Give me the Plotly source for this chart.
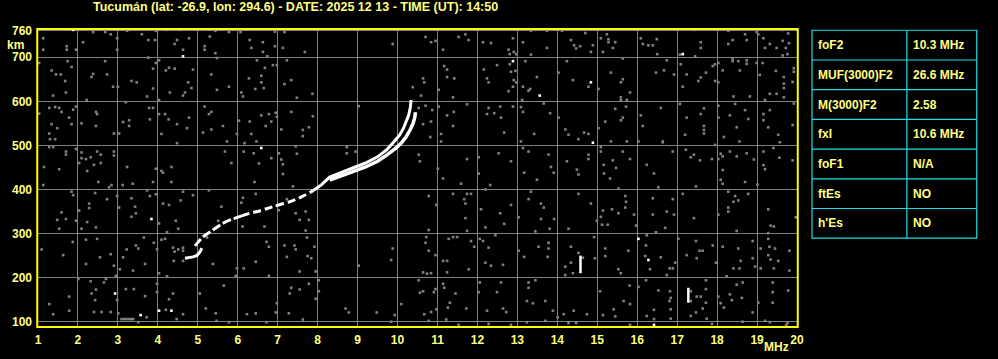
import plotly.graph_objects as go

# ---------------- data ----------------
title_text = "Tucumán (lat: -26.9, lon: 294.6) - DATE: 2025 12 13 - TIME (UT): 14:50"
x_ticks = list(range(1, 21))
y_ticks = [100, 200, 300, 400, 500, 600, 700, 760]

# O-mode F trace (MHz, km): low part, middle (broken) part, upper part
o_low_freq = [4.93, 5.0, 5.08, 5.15, 5.26, 5.38, 5.5, 5.62, 5.75, 5.9, 6.1]
o_low_height = [272, 280, 288, 294, 301, 308, 316, 323, 329, 334, 340]
o_mid_freq = [6.1, 6.3, 6.5, 6.7, 6.9, 7.1, 7.3, 7.5, 7.7, 7.9]
o_mid_height = [340, 346, 350, 356, 362, 367, 372, 379, 388, 398]
o_up_freq = [7.9, 8.1, 8.3, 8.6, 8.9, 9.2, 9.5, 9.73, 9.9, 10.05, 10.15,
             10.22, 10.28, 10.32, 10.34]
o_up_height = [398, 411, 428, 439, 449, 460, 474, 490, 507, 523, 539,
               554, 569, 586, 603]
# X-mode trace
x_freq = [8.3, 8.6, 8.9, 9.2, 9.5, 9.73, 9.95, 10.1, 10.22, 10.32, 10.39, 10.43, 10.45]
x_height = [421, 432, 441, 451, 464, 478, 493, 506, 520, 536, 550, 563, 575]
# low hook
hook_freq = [4.68, 4.78, 4.88, 4.97, 5.03, 5.07, 5.1]
hook_height = [244, 245, 247, 250, 255, 261, 267]

# vertical echo marks
mark_freq = [14.58, 17.28]
mark_low = [210, 143]
mark_high = [250, 177]

# grey noise echoes (MHz, km)
noise = [
(1.13,743),(1.13,717),(1.72,725),(1.72,717),(1.95,717),(2.13,734),(2.38,757),(2.68,757),(2.82,752),(2.98,743),(2.98,717),(3.23,760),(3.6,752),(3.76,739),(3.93,739),(3.95,760),(4.23,762),(4.53,762),(4.48,739),(4.42,730),(4.63,717),(4.78,743),(5.17,725),(5.17,717),(5.3,747),(5.44,760),(5.44,709),(5.48,698),(5.78,757),(6.07,757),(6.3,739),(6.34,721),(6.63,734),(6.63,712),(6.74,702),(6.93,758),(6.93,725),(7.13,721),(7.17,757),(7.68,712),(9.88,730),
(1.03,687),(1.34,670),(1.45,661),(1.57,661),(1.68,646),(1.74,691),(1.84,678),(1.7,620),(1.38,613),(2.22,603),(2.34,655),(2.38,662),(2.68,691),(2.73,661),(2.88,633),(3.0,633),(3.34,646),(3.47,643),(3.76,699),(3.88,674),(3.88,629),(3.73,611),(3.95,687),(4.03,693),(4.03,603),(4.2,670),(4.28,676),(4.42,674),(4.3,620),(4.63,613),(4.68,620),(4.76,643),(4.84,630),(4.88,672),(5.34,661),(5.48,626),(5.78,633),(6.09,620),(6.13,611),(6.28,652),(6.48,693),(6.59,658),(6.59,643),(6.68,676),(6.65,630),(6.44,628),(6.88,682),(6.98,682),(7.23,693),(7.34,648),(7.17,639),(7.48,608),(7.87,617),(10.38,632),
(1.03,572),(1.28,585),(1.43,587),(1.53,585),(1.59,576),(1.78,563),(1.88,581),(1.95,588),(1.34,548),(1.48,539),(1.28,527),(1.84,548),(1.3,514),(1.43,514),(2.09,550),(2.45,576),(2.48,571),(2.45,544),(2.9,527),(3.03,527),(3.13,553),(3.28,557),(3.28,544),(3.2,598),(3.78,585),(3.88,585),(3.8,559),(4.03,571),(4.09,526),(4.18,571),(4.27,559),(4.48,548),(4.73,539),(4.78,563),(4.48,505),(5.17,588),(5.28,571),(5.34,576),(5.34,536),(5.13,529),(5.63,544),(5.73,509),(6.03,556),(5.98,526),(6.3,554),(6.34,526),(6.17,505),(6.47,509),(6.59,568),(6.78,571),(6.95,574),(6.98,565),(6.84,554),(6.7,544),(7.09,536),(7.34,576),(7.63,535),(7.63,521),(7.78,541),(7.88,566),(9.03,589),
(1.28,496),(1.38,496),(1.7,486),(1.7,479),(1.95,492),(2.09,484),(2.09,471),(2.2,469),(2.32,473),(2.48,486),(2.57,479),(2.9,486),(2.9,477),(2.03,460),(2.4,456),(2.57,460),(1.15,451),(1.53,446),(2.23,442),(3.23,451),(3.95,447),(4.09,442),(4.13,438),(4.34,451),(5.68,486),(5.84,460),(6.15,486),(6.4,482),(6.53,459),(6.84,471),(7.03,482),(7.09,468),(7.13,457),(7.13,435),(7.45,498),(7.48,481),(8.73,496),(8.73,482),(8.95,486),
(10.7,746),(10.84,734),(10.95,737),(11.14,717),(11.53,746),(11.7,752),(11.78,739),(12.14,734),(12.34,732),(12.78,717),(12.81,707),(12.91,712),(12.97,707),(12.89,743),(13.14,734),(13.34,760),(13.34,706),(13.45,762),(13.74,760),(13.74,721),(14.12,760),(14.34,739),(14.42,727),(14.47,720),(14.57,725),(14.7,755),(14.84,712),(14.89,727),(15.09,743),(15.24,752),(15.28,741),(15.28,734),(15.45,734),(15.39,721),(15.14,712),(16.09,743),(16.14,730),(16.28,727),(16.39,727),(16.5,707),(16.49,741),(17.07,706),(17.45,762),(17.59,734),(17.59,721),(17.45,702),(18.28,760),(18.28,730),(18.39,739),(18.7,752),(18.74,739),(18.99,757),(19.03,752),(19.16,743),(19.32,730),(19.2,721),(19.49,721),(19.64,762),(19.64,737),(19.78,754),(19.8,732),(19.72,721),(19.76,707),(19.64,704),
(10.64,652),(10.67,643),(10.59,613),(11.03,626),(11.17,680),(11.24,672),(11.24,655),(11.42,652),(11.39,609),(11.74,593),(12.16,672),(12.24,652),(12.28,643),(12.49,682),(12.81,684),(12.84,667),(12.95,669),(12.91,648),(12.89,633),(12.78,623),(12.97,643),(13.2,691),(13.14,633),(13.32,628),(13.28,624),(13.49,655),(13.12,603),(14.03,665),(14.24,691),(14.39,648),(14.78,633),(15.03,628),(15.34,665),(15.59,643),(15.64,650),(15.59,609),(15.59,603),(15.74,603),(15.82,620),(15.64,697),(16.47,665),(16.67,670),(16.74,693),(16.92,661),(17.14,633),(17.09,684),(17.24,661),(17.59,654),(17.53,646),(17.72,665),(17.89,680),(17.95,684),(17.95,646),(18.03,687),(18.03,643),(18.14,670),(18.39,697),(18.39,691),(18.53,691),(18.57,670),(18.74,693),(18.74,685),(18.99,687),(19.14,687),(19.47,669),(19.07,660),(19.67,655),(19.89,644),(19.92,675),(19.92,667),(19.67,640),(19.67,630),(19.67,609),(19.49,617),(19.32,617),(18.41,611),(18.82,611),(19.2,603),
(10.53,585),(10.7,590),(10.87,580),(10.64,548),(10.84,554),(11.03,588),(11.24,568),(11.41,576),(11.39,544),(11.09,526),(10.82,519),(11.09,509),(12.28,585),(12.42,573),(12.59,563),(12.57,588),(12.24,571),(12.67,529),(12.89,588),(13.09,587),(13.14,576),(13.42,526),(13.66,595),(13.82,573),(13.09,509),(14.03,563),(14.2,536),(14.28,524),(14.53,514),(14.67,529),(14.78,526),(15.03,539),(15.2,554),(15.34,509),(15.45,583),(15.59,557),(15.72,588),(15.64,563),(15.74,509),(16.09,568),(16.14,544),(16.03,509),(16.59,585),(16.64,507),(17.07,594),(17.24,563),(17.2,524),(17.59,571),(17.67,584),(17.67,544),(17.67,535),(17.67,527),(18.03,590),(18.03,563),(18.17,519),(18.32,568),(18.45,594),(18.49,541),(18.56,509),(18.7,580),(18.78,560),(19.16,571),(19.32,580),(19.16,557),(19.28,541),(19.53,524),(19.57,507),(19.89,546),(19.92,595),
(10.53,479),(10.56,464),(11.01,447),(11.74,469),(12.03,473),(12.03,436),(12.53,482),(12.84,464),(13.14,494),(13.28,486),(13.17,438),(13.78,479),(13.84,451),(13.91,438),(14.24,464),(14.78,479),(14.78,469),(14.49,445),(14.53,434),(15.09,496),(15.09,486),(15.16,456),(15.17,436),(15.39,466),(15.47,449),(15.64,486),(15.82,469),(16.24,456),(16.42,436),(16.64,509),(16.89,486),(17.22,490),(17.34,473),(17.42,479),(17.57,466),(17.87,469),(17.95,501),(18.03,469),(18.09,481),(18.14,475),(18.14,444),(18.32,486),(18.49,475),(18.74,482),(18.92,468),(19.16,455),(19.2,446),(19.16,486),(19.41,494),(19.56,472),(19.89,466),
(1.13,410),(2.51,417),(2.78,405),(2.84,410),(3.12,410),(3.37,413),(3.88,417),(4.34,417),(6.42,417),(7.38,407),
(1.84,395),(1.88,387),(1.59,348),(1.48,331),(1.53,311),(1.7,333),(1.95,329),(2.03,352),(2.28,368),(2.28,358),(2.23,326),(2.09,311),(2.43,392),(2.45,314),(2.73,378),(2.98,385),(3.03,359),(3.34,338),(3.45,346),(3.43,361),(3.34,380),(3.73,398),(3.8,385),(3.95,389),(4.03,323),(4.13,368),(4.28,365),(4.45,329),(4.57,375),(4.63,395),(4.88,387),(4.51,311),(4.23,303),(5.28,398),(5.59,361),(5.51,329),(6.13,381),(6.09,370),(6.45,390),(6.45,350),(6.12,316),(6.67,316),(6.97,363),(7.03,353),(7.23,378),(7.45,346),(7.7,350),(7.55,331),(7.78,331),(7.7,307),
(1.09,264),(1.63,251),(1.87,281),(2.2,286),(2.2,231),(2.48,288),(2.55,246),(2.82,253),(2.9,227),(2.95,204),(3.05,219),(3.13,246),(3.22,264),(3.45,273),(3.51,266),(3.65,291),(3.68,231),(3.38,216),(3.9,279),(3.98,264),(4.03,210),(4.09,286),(4.18,288),(4.38,268),(4.42,259),(4.4,238),(4.51,264),(4.63,268),(4.63,261),(4.63,238),(4.23,203),(5.23,291),(5.38,231),(5.98,221),(6.15,221),(5.95,204),(6.72,281),(6.78,270),(6.45,236),(6.78,204),(7.17,273),(7.23,247),(7.42,273),(7.45,264),(7.73,291),(7.75,249),(7.84,244),(7.92,270),(7.95,214),(7.55,214),(9.03,227),(9.84,240),(9.88,266),
(1.28,140),(1.38,117),(1.78,157),(1.78,125),(2.01,197),(2.32,192),(2.34,164),(2.45,173),(2.43,149),(2.4,122),(2.59,122),(2.65,189),(2.7,197),(2.82,122),(2.98,149),(3.01,119),(3.09,106),(3.15,106),(3.21,106),(3.27,106),(3.33,106),(3.38,106),(3.51,99),(3.72,110),(3.2,174),(3.4,174),(3.68,158),(3.98,186),(3.98,167),(4.38,164),(4.28,151),(4.2,127),(4.63,117),(4.47,106),(5.05,164),(5.2,130),(5.45,119),(5.47,102),(5.65,182),(5.78,99),(6.23,117),(6.45,119),(6.72,99),(6.98,142),(6.95,121),(7.28,119),(7.3,164),(7.34,177),(7.55,173),(7.63,105),(7.78,186),(7.95,152),(8.03,169),(8.03,194),(8.7,130),(8.78,121),(9.48,121),(9.93,115),(10.09,140),(9.84,100),
(11.14,425),(11.59,413),(12.32,410),(12.2,400),(13.49,422),(15.32,425),(15.53,402),(16.53,405),(17.47,407),(18.09,422),(18.14,413),(18.7,417),(19.01,411),
(10.78,385),(10.97,365),(10.78,308),(11.39,390),(11.67,378),(11.7,368),(11.74,390),(11.84,390),(11.7,335),(11.74,306),(12.09,355),(12.2,314),(12.57,346),(12.67,322),(12.84,365),(13.03,337),(13.28,378),(13.34,395),(13.59,368),(13.66,359),(13.59,333),(13.92,333),(13.81,311),(13.45,305),(14.53,390),(14.28,311),(14.84,368),(14.99,329),(15.09,338),(15.14,352),(15.12,320),(15.26,320),(15.37,355),(15.53,346),(15.7,385),(15.72,372),(15.7,359),(15.92,343),(15.97,318),(16.39,380),(16.39,343),(16.74,350),(16.89,378),(16.92,343),(16.7,313),(16.47,303),(17.14,390),(17.42,335),(18.28,395),(18.45,385),(18.41,372),(18.53,375),(18.78,390),(18.28,359),(18.28,350),(18.03,343),(18.49,306),(19.28,355),(19.34,318),(19.42,316),(19.28,301),(19.97,337),
(10.72,292),(10.7,279),(10.78,261),(10.95,251),(10.64,212),(10.74,209),(10.84,210),(11.28,288),(11.39,292),(11.49,292),(11.14,238),(11.24,238),(11.24,212),(11.78,219),(11.84,283),(11.92,270),(12.06,288),(12.14,283),(12.28,268),(12.2,234),(12.34,227),(12.64,229),(12.45,296),(13.03,261),(13.17,247),(13.53,270),(13.78,279),(13.78,266),(13.76,247),(14.2,225),(14.34,270),(14.34,234),(14.2,206),(14.39,210),(14.53,256),(14.64,245),(14.92,292),(14.94,244),(15.2,266),(15.2,249),(15.53,219),(15.59,210),(15.78,261),(16.24,296),(16.22,273),(16.2,249),(16.32,219),(16.59,246),(16.74,206),(16.81,221),(16.89,221),(16.95,234),(17.03,288),(17.24,251),(17.47,283),(17.56,261),(17.64,261),(17.49,244),(17.89,273),(17.97,234),(18.24,203),(18.41,221),(18.56,221),(18.53,266),(18.14,270),(18.59,238),(18.89,283),(18.89,244),(18.95,225),(19.09,266),(19.09,221),(19.28,288),(19.31,270),(19.45,266),(19.34,241),(19.53,238),(19.42,221),(19.28,251),(19.81,261),(19.81,216),
(10.53,194),(10.56,166),(10.64,169),(10.95,174),(10.91,167),(10.97,128),(10.67,117),(10.84,122),(10.78,102),(11.14,186),(11.17,177),(11.31,143),(11.26,132),(11.22,105),(11.45,164),(11.72,130),(11.53,93),(12.06,189),(12.03,167),(12.24,125),(12.49,167),(12.59,189),(12.64,130),(12.72,122),(12.28,95),(12.84,93),(13.28,189),(13.28,177),(13.24,147),(13.39,142),(13.7,147),(13.89,125),(13.7,102),(13.24,99),(13.45,194),(14.01,110),(14.16,117),(14.28,97),(14.41,125),(14.74,117),(14.47,97),(15.07,169),(15.14,115),(15.41,128),(15.45,112),(15.66,147),(15.81,182),(16.03,179),(15.82,140),(15.82,93),(16.22,194),(16.42,127),(16.42,106),(16.24,113),(16.53,171),(16.82,169),(16.84,154),(16.81,147),(16.84,128),(16.84,107),(17.34,169),(17.34,147),(17.49,157),(17.59,157),(17.72,194),(17.72,174),(17.72,143),(17.64,130),(17.47,121),(17.34,113),(17.74,107),(17.87,95),(18.03,157),(18.09,142),(18.17,132),(18.32,162),(18.37,149),(18.49,184),(18.64,189),(18.62,154),(18.64,100),(18.89,121),(19.03,143),(19.2,102),(19.39,189),(19.39,167),(19.39,143),(19.32,99),(19.76,97),(19.78,171),(19.73,92),
]
noise_freq = [p[0] for p in noise]
noise_height = [p[1] for p in noise]

# strong isolated (white) echoes
white_freq = [1.88, 4.63, 6.59, 17.14, 12.89, 13.56, 14.84, 14.89, 3.84, 2.93, 3.57, 4.03, 4.34, 16.03, 16.28, 16.42]
white_height = [762, 702, 494, 707, 691, 613, 643, 506, 333, 164, 115, 125, 125, 288, 240, 93]

# parameter table
param_names = ["foF2", "MUF(3000)F2", "M(3000)F2", "fxI", "foF1", "ftEs", "h'Es"]
param_values = ["10.3 MHz", "26.6 MHz", "2.58", "10.6 MHz", "N/A", "NO", "NO"]

# ---------------- style ----------------
TXT = "#ffff80"
FRAME = "#ffff00"
GRID = "#808080"
CYAN = "#1fdde8"
FONT = "Liberation Sans"

W, H = 998, 359
ML, MR, MT, MB = 37, 201, 29, 26
PW, PH = W - ML - MR, H - MT - MB


def px_x(px):
    return (px - ML) / PW


def px_y(py):
    return (H - MB - py) / PH


fig = go.Figure()

fig.add_trace(go.Scatter(x=noise_freq, y=noise_height, mode="markers",
                         marker=dict(symbol="square", size=2.6, color=GRID, line=dict(width=0)),
                         hoverinfo="skip", showlegend=False))
fig.add_trace(go.Scatter(x=white_freq, y=white_height, mode="markers",
                         marker=dict(symbol="square", size=2.6, color="white", line=dict(width=0)),
                         hoverinfo="skip", showlegend=False))
for f, lo, hi in zip(mark_freq, mark_low, mark_high):
    fig.add_trace(go.Scatter(x=[f, f], y=[lo, hi], mode="lines",
                             line=dict(color="white", width=2.5),
                             hoverinfo="skip", showlegend=False))

fig.add_trace(go.Scatter(x=hook_freq, y=hook_height, mode="lines",
                         line=dict(color="white", width=3), showlegend=False))
fig.add_trace(go.Scatter(x=o_low_freq, y=o_low_height, mode="lines",
                         line=dict(color="white", width=3, dash="9px,3px"), showlegend=False))
fig.add_trace(go.Scatter(x=o_mid_freq, y=o_mid_height, mode="lines",
                         line=dict(color="white", width=3, dash="8px,4px"), showlegend=False))
fig.add_trace(go.Scatter(x=o_up_freq, y=o_up_height, mode="lines",
                         line=dict(color="white", width=3), showlegend=False))
fig.add_trace(go.Scatter(x=x_freq, y=x_height, mode="lines",
                         line=dict(color="white", width=3.5), showlegend=False))

tickfont = dict(family=FONT, size=12, color=TXT, weight="bold")
fig.update_xaxes(range=[1, 20], tickvals=x_ticks, ticktext=[str(v) for v in x_ticks],
                 showgrid=True, gridcolor=GRID, gridwidth=1, zeroline=False,
                 showline=False, ticks="", tickfont=tickfont, ticklabelstandoff=4)
fig.update_yaxes(range=[88, 764], tickvals=y_ticks, ticktext=[str(v) for v in y_ticks],
                 showgrid=True, gridcolor=GRID, gridwidth=1, zeroline=False,
                 showline=False, ticks="", tickfont=tickfont, ticklabelstandoff=5)

shapes = [dict(type="rect", xref="paper", yref="paper", x0=-0.001, x1=1.001, y0=0, y1=1,
               line=dict(color=FRAME, width=2), layer="above")]

# table
t_left, t_mid, t_right = 812, 907, 977
t_top, row_h = 30.3, 30.3
n = len(param_names)
shapes.append(dict(type="rect", xref="paper", yref="paper",
                   x0=px_x(t_left), x1=px_x(t_right),
                   y0=px_y(t_top + n * row_h), y1=px_y(t_top),
                   line=dict(color=CYAN, width=1.2)))
shapes.append(dict(type="line", xref="paper", yref="paper",
                   x0=px_x(t_mid), x1=px_x(t_mid),
                   y0=px_y(t_top + n * row_h), y1=px_y(t_top),
                   line=dict(color=CYAN, width=1.2)))
annotations = []
for i, (name, val) in enumerate(zip(param_names, param_values)):
    if i > 0:
        shapes.append(dict(type="line", xref="paper", yref="paper",
                           x0=px_x(t_left), x1=px_x(t_right),
                           y0=px_y(t_top + i * row_h), y1=px_y(t_top + i * row_h),
                           line=dict(color=CYAN, width=1.2)))
    yc = px_y(t_top + (i + 0.5) * row_h)
    annotations.append(dict(xref="paper", yref="paper", x=px_x(t_left + 4.5), y=yc,
                            text=name, showarrow=False, xanchor="left", yanchor="middle",
                            font=dict(family=FONT, size=12, color=TXT, weight="bold")))
    annotations.append(dict(xref="paper", yref="paper", x=px_x(t_mid + 4.5), y=yc,
                            text=val, showarrow=False, xanchor="left", yanchor="middle",
                            font=dict(family=FONT, size=12, color=TXT, weight="bold")))

annotations.append(dict(xref="paper", yref="paper", x=px_x(295), y=px_y(7),
                        text=title_text, showarrow=False, xanchor="center", yanchor="middle",
                        font=dict(family=FONT, size=12.5, color=TXT, weight="bold")))
annotations.append(dict(xref="paper", yref="paper", x=px_x(14), y=px_y(45),
                        text="km", showarrow=False, xanchor="center", yanchor="middle",
                        font=dict(family=FONT, size=12, color=TXT, weight="bold")))
annotations.append(dict(xref="paper", yref="paper", x=px_x(776), y=px_y(353),
                        text="MHz", showarrow=False, xanchor="center", yanchor="middle",
                        font=dict(family=FONT, size=12, color=TXT, weight="bold")))

fig.update_layout(width=W, height=H, margin=dict(l=ML, r=MR, t=MT, b=MB),
                  paper_bgcolor="black", plot_bgcolor="black",
                  shapes=shapes, annotations=annotations, showlegend=False)

fig.write_html("out.html")
